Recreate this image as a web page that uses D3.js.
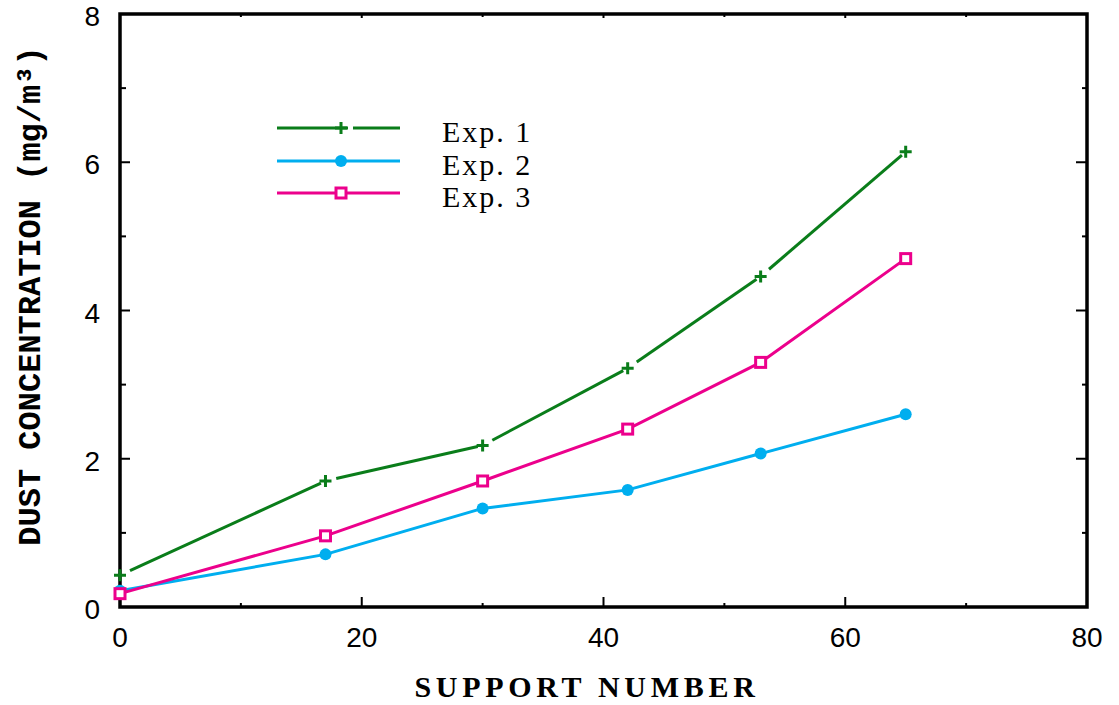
<!DOCTYPE html>
<html lang="en">
<head>
  <meta charset="UTF-8">
  <title>Dust concentration</title>
  <script src="https://cdn.jsdelivr.net/npm/d3@7"></script>
  <style>
    body { margin: 0; background: #fff; }
    svg { display: block; }
  </style>
</head>
<body>
<svg id="chart"></svg>
<script>
  // data
  const supports = [0, 17, 30, 42, 53, 65]
  const exp1 = [0.43, 1.70, 2.18, 3.22, 4.46, 6.14]
  const exp2 = [0.22, 0.71, 1.33, 1.58, 2.07, 2.60]
  const exp3 = [0.18, 0.96, 1.70, 2.40, 3.30, 4.70]
  const seriesNames = ["Exp. 1", "Exp. 2", "Exp. 3"]
  const xTicks = [0, 20, 40, 60, 80]
  const yTicks = [0, 2, 4, 6, 8]

  const width = 1119
  const height = 705
  const m = { left: 120, right: 1087, top: 14, bottom: 607 }

  const svg = d3.select("#chart").attr("width", width).attr("height", height)

  const x = d3.scaleLinear().domain([0, 80]).range([m.left, m.right])
  const y = d3.scaleLinear().domain([0, 8]).range([m.bottom, m.top])

  const series = [
    { name: seriesNames[0], values: exp1, color: "#0a7d1a", marker: "plus" },
    { name: seriesNames[1], values: exp2, color: "#00aeef", marker: "circle" },
    { name: seriesNames[2], values: exp3, color: "#ec008c", marker: "square" }
  ]

  // ticks: major inward, minor halfway
  const minorX = d3.range(10, 80, 20)
  const minorY = d3.range(1, 8, 2)
  const tickG = svg.append("g").attr("stroke", "#000").attr("stroke-width", 2)
  xTicks.slice(1, -1).forEach(v => {
    tickG.append("line").attr("x1", x(v)).attr("x2", x(v)).attr("y1", m.bottom).attr("y2", m.bottom - 10)
    tickG.append("line").attr("x1", x(v)).attr("x2", x(v)).attr("y1", m.top).attr("y2", m.top + 4)
  })
  minorX.forEach(v => {
    tickG.append("line").attr("x1", x(v)).attr("x2", x(v)).attr("y1", m.bottom).attr("y2", m.bottom - 4)
    tickG.append("line").attr("x1", x(v)).attr("x2", x(v)).attr("y1", m.top).attr("y2", m.top + 3)
  })
  yTicks.slice(1, -1).forEach(v => {
    tickG.append("line").attr("x1", m.left).attr("x2", m.left + 10).attr("y1", y(v)).attr("y2", y(v))
    tickG.append("line").attr("x1", m.right).attr("x2", m.right - 11).attr("y1", y(v)).attr("y2", y(v))
  })
  minorY.forEach(v => {
    tickG.append("line").attr("x1", m.left).attr("x2", m.left + 6).attr("y1", y(v)).attr("y2", y(v))
    tickG.append("line").attr("x1", m.right).attr("x2", m.right - 5).attr("y1", y(v)).attr("y2", y(v))
  })

  // frame
  svg.append("rect")
    .attr("x", m.left).attr("y", m.top)
    .attr("width", m.right - m.left).attr("height", m.bottom - m.top)
    .attr("fill", "none").attr("stroke", "#000").attr("stroke-width", 3.5)

  // tick labels
  const labelFont = "'Liberation Sans', Arial, sans-serif"
  svg.append("g").selectAll("text").data(xTicks).join("text")
    .attr("x", d => x(d)).attr("y", 647)
    .attr("text-anchor", "middle")
    .attr("font-family", labelFont).attr("font-size", 28)
    .text(d => d)
  svg.append("g").selectAll("text").data(yTicks).join("text")
    .attr("x", 100).attr("y", d => y(d) + 12)
    .attr("text-anchor", "end")
    .attr("font-family", labelFont).attr("font-size", 28)
    .text(d => d)

  // axis titles
  svg.append("text")
    .attr("x", 587).attr("y", 697)
    .attr("text-anchor", "middle")
    .attr("font-family", "'Liberation Serif', 'Times New Roman', serif")
    .attr("font-weight", "bold").attr("font-size", 30)
    .attr("letter-spacing", 4.7)
    .text("SUPPORT NUMBER")
  svg.append("text")
    .attr("transform", "translate(40,296) rotate(-90)")
    .attr("text-anchor", "middle")
    .attr("font-family", "'Liberation Mono', 'Courier New', monospace")
    .attr("font-weight", "bold").attr("font-size", 32)
    .text("DUST CONCENTRATION (mg/m³)")

  function drawMarker(g, type, cx, cy, color) {
    if (type === "plus") {
      g.append("path")
        .attr("d", `M${cx - 6},${cy}H${cx + 6}M${cx},${cy - 6}V${cy + 6}`)
        .attr("stroke", color).attr("stroke-width", 3)
    } else if (type === "circle") {
      g.append("circle").attr("cx", cx).attr("cy", cy).attr("r", 6).attr("fill", color)
    } else {
      g.append("rect")
        .attr("x", cx - 5).attr("y", cy - 5).attr("width", 10).attr("height", 10)
        .attr("fill", "#fff").attr("stroke", color).attr("stroke-width", 3)
    }
  }

  // lines and markers
  const line = d3.line().x(d => x(d[0])).y(d => y(d[1]))
  series.forEach(s => {
    const pts = supports.map((v, i) => [v, s.values[i]])
    const g = svg.append("g")
    if (s.marker === "plus") {
      // green line leaves a small gap after each marker
      d3.pairs(pts).forEach(([a, b]) => {
        const x0 = x(a[0]), y0 = y(a[1]), x1 = x(b[0]), y1 = y(b[1])
        const len = Math.hypot(x1 - x0, y1 - y0)
        const t0 = 11 / len, t1 = 1 - 5 / len
        g.append("line")
          .attr("x1", x0 + (x1 - x0) * t0).attr("y1", y0 + (y1 - y0) * t0)
          .attr("x2", x0 + (x1 - x0) * t1).attr("y2", y0 + (y1 - y0) * t1)
          .attr("stroke", s.color).attr("stroke-width", 3)
      })
    } else {
      g.append("path").datum(pts)
        .attr("d", line)
        .attr("fill", "none").attr("stroke", s.color).attr("stroke-width", 3)
    }
    pts.forEach(p => drawMarker(g, s.marker, x(p[0]), y(p[1]), s.color))
  })

  // legend
  const legendY = [128, 161, 193]
  const legend = svg.append("g")
  series.forEach((s, i) => {
    const ly = legendY[i]
    if (s.marker === "plus") {
      legend.append("line").attr("x1", 277).attr("x2", 348).attr("y1", ly).attr("y2", ly)
        .attr("stroke", s.color).attr("stroke-width", 3)
      legend.append("line").attr("x1", 353).attr("x2", 400).attr("y1", ly).attr("y2", ly)
        .attr("stroke", s.color).attr("stroke-width", 3)
    } else {
      legend.append("line").attr("x1", 277).attr("x2", 400).attr("y1", ly).attr("y2", ly)
        .attr("stroke", s.color).attr("stroke-width", 3)
    }
    drawMarker(legend, s.marker, 341, ly, s.color)
    legend.append("text")
      .attr("x", 442).attr("y", ly + 14)
      .attr("font-family", "'Liberation Serif', 'Times New Roman', serif")
      .attr("font-size", 30)
      .attr("letter-spacing", 2)
      .text(s.name)
  })
</script>
</body>
</html>
